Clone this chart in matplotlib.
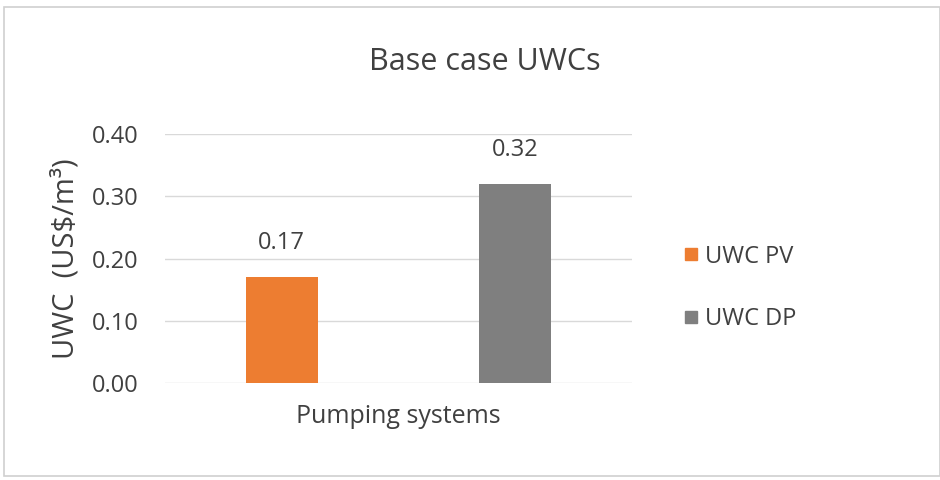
import matplotlib
matplotlib.use("Agg")
import matplotlib.pyplot as plt
from matplotlib.patches import Rectangle
from matplotlib.lines import Line2D

categories = ["UWC PV", "UWC DP"]
values = [0.17, 0.32]
colors = ["#ED7D31", "#7F7F7F"]
yticks = [0.0, 0.1, 0.2, 0.3, 0.4]

plt.rcParams['font.family'] = ['Open Sans', 'DejaVu Sans']
plt.rcParams['mathtext.default'] = 'regular'
W, H = 940, 480
fig = plt.figure(figsize=(W/100, H/100), dpi=100)
txt = "#404040"

# outer frame
fig.patches.append(Rectangle((4/W, 4/H), (W-4)/W, (H-11)/H, transform=fig.transFigure,
                             fill=False, edgecolor="#D0D0D0", linewidth=1.2))

ax = fig.add_axes([165/W, 1-383/H, (632-165)/W, (383-134)/H])
x = [0, 1]
ax.bar(x, values, width=0.307, color=colors, zorder=3)
for xi, v in zip(x, values):
    ax.annotate(f"{v:.2f}", (xi, v), xytext=(0, 28), textcoords="offset pixels",
                ha="center", va="baseline", fontsize=17, color=txt)

ax.set_xlim(-0.5, 1.5)
ax.set_ylim(0, 0.4)
ax.set_yticks(yticks)
ax.set_yticklabels([f"{t:.2f}" for t in yticks], fontsize=17, color=txt)
ax.set_xticks([])
for s in ax.spines.values():
    s.set_visible(False)
ax.tick_params(axis="y", length=0, pad=19)
ax.grid(axis="y", color="#D9D9D9", linewidth=1, zorder=0)
ax.set_xlabel("Pumping systems", fontsize=18, color=txt, labelpad=15)
ax.set_ylabel("UWC  (US\\$/m³)", fontsize=21, color=txt, labelpad=8)
fig.text(485/W, 1-62/H, "Base case UWCs", ha="center", va="center", fontsize=22, color=txt)

handles = [Line2D([0], [0], marker="s", linestyle="none", markersize=8,
                  markerfacecolor=c, markeredgecolor=c) for c in colors]
fig.legend(handles, categories, loc="center left", bbox_to_anchor=(658/W, 1-288/H),
           frameon=False, fontsize=17, labelcolor=txt, handletextpad=0.1,
           labelspacing=1.65, handlelength=1.0)

fig.savefig("out.png", dpi=100)
